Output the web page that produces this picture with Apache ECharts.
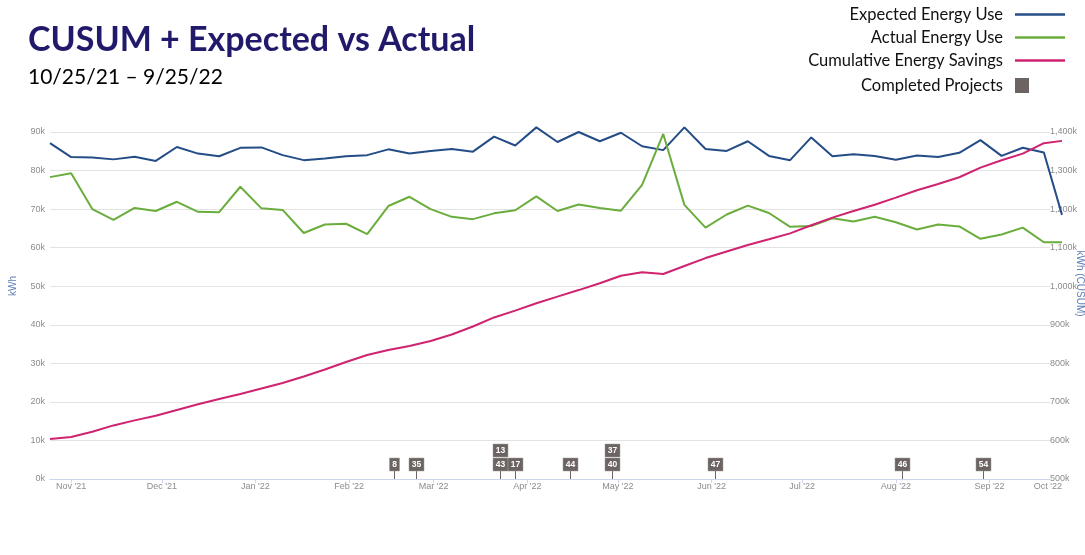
<!DOCTYPE html>
<html>
<head>
<meta charset="utf-8">
<script src="https://cdn.jsdelivr.net/npm/echarts@6/dist/echarts.min.js"></script>
<style>
html, body { margin: 0; padding: 0; background: #fff; }
#chart { width: 1085px; height: 555px; }
</style>
</head>
<body>
<div id="chart"></div>
<script>
/* weekly readings, 10/25/21 - 9/25/22 */
var weeks = [
  '2021-10-25', '2021-11-01', '2021-11-08', '2021-11-15', '2021-11-22', '2021-11-29',
  '2021-12-06', '2021-12-13', '2021-12-20', '2021-12-27',
  '2022-01-03', '2022-01-10', '2022-01-17', '2022-01-24', '2022-01-31',
  '2022-02-07', '2022-02-14', '2022-02-21', '2022-02-28',
  '2022-03-07', '2022-03-14', '2022-03-21', '2022-03-28',
  '2022-04-04', '2022-04-11', '2022-04-18', '2022-04-25',
  '2022-05-02', '2022-05-09', '2022-05-16', '2022-05-23', '2022-05-30',
  '2022-06-06', '2022-06-13', '2022-06-20', '2022-06-27',
  '2022-07-04', '2022-07-11', '2022-07-18', '2022-07-25',
  '2022-08-01', '2022-08-08', '2022-08-15', '2022-08-22', '2022-08-29',
  '2022-09-05', '2022-09-12', '2022-09-19', '2022-09-25'
];

var expected = [87100, 83500, 83400, 82900, 83600, 82500, 86100, 84400, 83700, 85900,
  86000, 84000, 82700, 83100, 83700, 84000, 85500, 84400, 85100, 85600,
  84900, 88800, 86500, 91200, 87400, 90000, 87600, 89800, 86300, 85300,
  91200, 85600, 85100, 87600, 83800, 82700, 88600, 83700, 84200, 83800,
  82800, 83900, 83500, 84600, 87900, 83800, 85900, 84700, 68500];

var actual = [78300, 79300, 70000, 67200, 70300, 69500, 71900, 69300, 69200, 75800,
  70200, 69800, 63800, 66000, 66200, 63500, 70800, 73200, 70000, 68000,
  67400, 68900, 69700, 73300, 69500, 71200, 70300, 69600, 76300, 89500,
  71100, 65200, 68600, 70900, 69000, 65400, 65600, 67600, 66800, 68000,
  66600, 64700, 66000, 65500, 62300, 63400, 65200, 61400, 61400];

var cusum = [603800, 609000, 622700, 639000, 652000, 664000, 679000, 694000, 707500, 720500,
  734700, 749000, 766000, 784000, 803500, 821700, 834600, 845000, 858000, 874800,
  895600, 919000, 936600, 955700, 973000, 990000, 1007600, 1027000, 1036000, 1031800,
  1052500, 1073000, 1090000, 1107000, 1121800, 1137000, 1158000, 1177800, 1195000, 1211500,
  1229700, 1248900, 1265000, 1282600, 1307600, 1326700, 1343800, 1371000, 1377000];

/* completed projects (flag number and date) */
var projIds = ['8', '35', '43', '13', '17', '44', '40', '37', '47', '46', '54'];
var projDates = ['2022-02-16', '2022-02-23', '2022-03-23', '2022-03-23', '2022-03-28',
  '2022-04-15', '2022-04-29', '2022-04-29', '2022-06-02', '2022-08-03', '2022-08-30'];

/* x axis ticks */
var tickDates = ['2021-11-01', '2021-12-01', '2022-01-01', '2022-02-01', '2022-03-01', '2022-04-01',
  '2022-05-01', '2022-06-01', '2022-07-01', '2022-08-01', '2022-09-01'];
var tickLabels = ["Nov '21", "Dec '21", "Jan '22", "Feb '22", "Mar '22", "Apr '22",
  "May '22", "Jun '22", "Jul '22", "Aug '22", "Sep '22", "Oct '22"];

var ts = function (s) { return echarts.time.parse(s).getTime(); };
var xMin = ts(weeks[0]);
var xMax = ts(weeks[weeks.length - 1]);
var tickVals = tickDates.map(ts);
var labelVals = tickVals.concat([xMax]);

var blue = '#244c86', green = '#6aad3d', pink = '#cf2270', flagColor = '#6b6462';
var axisGray = '#8c8c8c', nameBlue = '#5c7fb3';

var fmtK = function (v) { return (v / 1000).toLocaleString('en-US') + 'k'; };

// stack flags that share a date
var seen = {};
var flagData = projDates.map(function (d) {
  var lvl = seen[d] || 0;
  seen[d] = lvl + 1;
  return [ts(d), lvl];
});

var chart = echarts.init(document.getElementById('chart'));

var option = {
  backgroundColor: '#fff',
  animation: false,
  title: {
    text: 'CUSUM + Expected vs Actual',
    subtext: '10/25/21 \u2013 9/25/22',
    left: 28,
    top: 23,
    padding: 0,
    itemGap: 10,
    textStyle: { fontFamily: 'Lato', fontWeight: 'bold', fontSize: 34, color: '#211a6b' },
    subtextStyle: { fontFamily: 'Lato', fontSize: 21, color: '#000' }
  },
  legend: [{
    data: ['Expected Energy Use', 'Actual Energy Use', 'Cumulative Energy Savings'],
    orient: 'vertical',
    right: 20,
    top: 6,
    padding: 0,
    align: 'right',
    icon: 'rect',
    itemWidth: 50,
    itemHeight: 2.5,
    itemGap: 6,
    selectedMode: false,
    textStyle: { fontFamily: 'Lato', fontSize: 16.5, color: '#111', padding: [0, 7, 0, 0] }
  }, {
    data: [{ name: 'Completed Projects', icon: 'rect' }],
    orient: 'vertical',
    right: 56,
    top: 77,
    padding: 0,
    align: 'right',
    itemWidth: 14,
    itemHeight: 15,
    selectedMode: false,
    textStyle: { fontFamily: 'Lato', fontSize: 16.5, color: '#111', padding: [0, 7, 0, 0] }
  }],
  grid: { left: 50, right: 23, top: 132, bottom: 76, outerBoundsMode: 'none' },
  xAxis: {
    type: 'value',
    min: xMin,
    max: xMax,
    axisLine: { show: true, onZero: false, lineStyle: { color: '#ccd6eb', width: 1 } },
    axisTick: { show: true, length: 4, customValues: tickVals, lineStyle: { color: '#ccd6eb' } },
    axisLabel: {
      customValues: labelVals,
      alignMaxLabel: 'right',
      margin: 3,
      color: axisGray,
      fontFamily: 'Liberation Sans',
      fontSize: 9,
      formatter: function (v) {
        var i = labelVals.indexOf(v);
        return i < 0 ? '' : tickLabels[i];
      }
    },
    splitLine: { show: false }
  },
  yAxis: [{
    type: 'value',
    min: 0,
    max: 90000,
    interval: 10000,
    name: 'kWh',
    nameLocation: 'middle',
    nameGap: 32,
    nameMoveOverlap: false,
    nameTextStyle: { color: nameBlue, fontFamily: 'Liberation Sans', fontSize: 10, padding: [0, 0, 0, 39] },
    axisLine: { show: false },
    axisTick: { show: false },
    axisLabel: { margin: 5, color: axisGray, fontFamily: 'Liberation Sans', fontSize: 9, formatter: fmtK },
    splitLine: { lineStyle: { color: '#e3e3e3', width: 1 } }
  }, {
    type: 'value',
    min: 500000,
    max: 1400000,
    interval: 100000,
    position: 'right',
    offset: -12,
    name: 'kWh (CUSUM)',
    nameLocation: 'middle',
    nameRotate: -90,
    nameGap: 25,
    nameMoveOverlap: false,
    nameTextStyle: { color: nameBlue, fontFamily: 'Liberation Sans', fontSize: 10, padding: [0, 44, 0, 0] },
    axisLine: { show: false },
    axisTick: { show: false },
    axisLabel: {
      margin: 0, align: 'left', color: axisGray, fontFamily: 'Liberation Sans', fontSize: 9,
      backgroundColor: '#fff', padding: [1, 0, 1, 0], formatter: fmtK
    },
    splitLine: { show: false }
  }],
  series: [{
    name: 'Expected Energy Use',
    type: 'line',
    data: weeks.map(function (d, i) { return [ts(d), expected[i]]; }),
    showSymbol: false,
    clip: false,
    color: blue,
    lineStyle: { width: 2, color: blue }
  }, {
    name: 'Actual Energy Use',
    type: 'line',
    data: weeks.map(function (d, i) { return [ts(d), actual[i]]; }),
    showSymbol: false,
    clip: false,
    color: green,
    lineStyle: { width: 2, color: green }
  }, {
    name: 'Cumulative Energy Savings',
    type: 'line',
    yAxisIndex: 1,
    data: weeks.map(function (d, i) { return [ts(d), cusum[i]]; }),
    showSymbol: false,
    clip: false,
    color: pink,
    lineStyle: { width: 2, color: pink }
  }, {
    name: 'Completed Projects',
    type: 'custom',
    color: flagColor,
    itemStyle: { color: flagColor },
    data: flagData,
    encode: { x: 0, y: 1 },
    z: 5,
    renderItem: function (params, api) {
      var p = api.coord([api.value(0), 0]);
      var lvl = api.value(1);
      var label = projIds[params.dataIndex];
      var w = label.length > 1 ? 15 : 10, h = 13;
      var x = Math.round(p[0]) + 0.5;
      var bottom = p[1] - 8 - lvl * (h + 1);
      var kids = [];
      if (lvl === 0) {
        kids.push({ type: 'line', shape: { x1: x, y1: p[1], x2: x, y2: bottom },
          style: { stroke: flagColor, lineWidth: 1 } });
      }
      kids.push({ type: 'rect', shape: { x: x - w / 2, y: bottom - h, width: w, height: h },
        style: { fill: flagColor, stroke: '#a39d9a', lineWidth: 0.5 } });
      kids.push({ type: 'text', style: { text: label, x: x, y: bottom - h / 2 + 0.5,
        align: 'center', verticalAlign: 'middle', fill: '#fff',
        font: 'bold 8.5px "Liberation Sans"' } });
      return { type: 'group', children: kids };
    }
  }]
};

chart.setOption(option);
</script>
</body>
</html>
